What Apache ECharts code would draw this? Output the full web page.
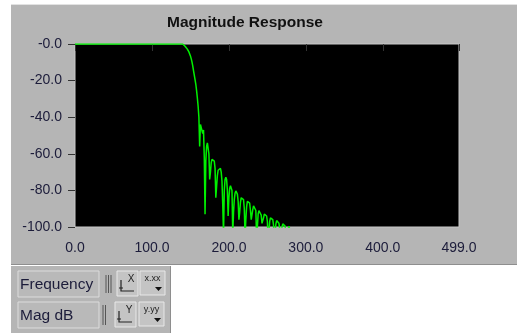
<!DOCTYPE html>
<html>
<head>
<meta charset="utf-8">
<script src="https://cdn.jsdelivr.net/npm/echarts@6/dist/echarts.min.js"></script>
<style>
html, body { margin: 0; padding: 0; background: #fff; }
#magResponse { width: 517px; height: 333px; }
</style>
</head>
<body>
<div id="magResponse"></div>
<script>
// frequency bin index and magnitude (dB)
let freqIndex = [0, 140, 141, 142, 143, 144, 145, 146, 147, 148, 149,
    150, 151, 152, 153, 154, 155, 156, 157, 158, 159,
    160, 161, 162, 163, 164, 165, 166, 167, 168, 169,
    170, 171, 172, 173, 174, 175, 176, 177, 178, 179,
    180, 181, 182, 183, 184, 185, 186, 187, 188, 189,
    190, 191, 192, 193, 194, 195, 196, 197, 198, 199,
    200, 201, 202, 203, 204, 205, 206, 207, 208, 209,
    210, 211, 212, 213, 214, 215, 216, 217, 218, 219,
    220, 221, 222, 223, 224, 225, 226, 227, 228, 229,
    230, 231, 232, 233, 234, 235, 236, 237, 238, 239,
    240, 241, 242, 243, 244, 245, 246, 247, 248, 249,
    250, 251, 252, 253, 254, 255, 256, 257, 258, 259,
    260, 261, 262, 263, 264, 265, 266, 267, 268, 269,
    270, 271, 272, 273, 274, 275, 276, 277, 278, 279,
    280, 281, 282, 283];
let magDb = [0, 0, -0.3, -0.8, -1.2, -1.7, -2.2, -2.8, -3.5, -4.3, -5.3,
    -6.5, -8, -9.8, -12, -14.5, -17, -19.5, -22, -25.5, -29.5,
    -34, -40, -56, -44, -43, -45, -49, -47, -62, -93,
    -64, -56, -54, -55, -60, -74, -70, -65, -63, -62.5,
    -62.4, -64, -68, -84, -78, -72, -69, -68, -68.5, -68,
    -70, -75, -88, -104, -80, -74, -72.8, -74, -80, -94,
    -84, -79, -77.5, -77.5, -80, -104, -92, -85, -81.5, -80.3,
    -80.5, -82, -86, -96, -92, -86.5, -84, -83.4, -83.5, -85,
    -90, -105, -96, -89, -86, -85.2, -85.5, -87, -91, -96,
    -95, -90.5, -88.5, -88, -88.5, -91, -106, -100, -93, -91,
    -90.7, -91, -93.5, -98, -99, -95, -93, -92.5, -92.8, -94,
    -97, -108, -103, -97, -95, -94.4, -94.6, -96, -99, -109,
    -104, -98.5, -96.5, -96.2, -96.5, -98, -101, -110, -104, -100,
    -98.3, -98, -98.2, -99.5, -103, -111, -106, -101, -99.6, -99.5,
    -100.5, -104, -112, -110];

let xTickValues = [0, 100, 200, 300, 400, 499];
let xTickLabels = ['0.0', '100.0', '200.0', '300.0', '400.0', '499.0'];
let yTickValues = [-100, -80, -60, -40, -20, 0];
let yTickLabels = ['-100.0', '-80.0', '-60.0', '-40.0', '-20.0', '-0.0'];

let xAxisName = 'Frequency';
let yAxisName = 'Mag dB';

let lineData = freqIndex.map((f, i) => [f, magDb[i]]);

let panelGray = '#b5b5b5';
let labelColor = '#1c1c3a';
let font = '"Liberation Sans", Arial, sans-serif';

function axisButton(x, y, letter) {
    return [
        { type: 'rect', shape: { x: x, y: y, width: 21, height: 25 },
          style: { fill: '#c4c4c4', stroke: '#e8e8e8', lineWidth: 1 } },
        { type: 'polyline', shape: { points: [[x + 4, y + 9], [x + 4, y + 20], [x + 17, y + 20]] },
          style: { stroke: '#222', lineWidth: 1.2, fill: null } },
        { type: 'polyline', shape: { points: [[x + 2, y + 17], [x + 6, y + 17]] },
          style: { stroke: '#222', lineWidth: 1, fill: null } },
        { type: 'text', x: x + 14, y: y + 8,
          style: { text: letter, font: '10px ' + font, fill: '#222', textAlign: 'center', textVerticalAlign: 'middle' } }
    ];
}

function formatButton(x, y, txt) {
    return [
        { type: 'rect', shape: { x: x, y: y, width: 25, height: 24 },
          style: { fill: '#c4c4c4', stroke: '#e8e8e8', lineWidth: 1 } },
        { type: 'text', x: x + 12.5, y: y + 8,
          style: { text: txt, font: '9px ' + font, fill: '#222', textAlign: 'center', textVerticalAlign: 'middle' } },
        { type: 'polygon', shape: { points: [[x + 15, y + 16], [x + 22, y + 16], [x + 18.5, y + 20]] },
          style: { fill: '#111' } }
    ];
}

let graphics = [
    // main front panel
    { type: 'rect', z: -10, shape: { x: 11, y: 4, width: 506, height: 260 }, style: { fill: panelGray } },
    { type: 'line', z: -9, shape: { x1: 11, y1: 4.5, x2: 517, y2: 4.5 }, style: { stroke: '#e2e2e2' } },
    { type: 'line', z: -9, shape: { x1: 11, y1: 264.5, x2: 517, y2: 264.5 }, style: { stroke: '#8e8e8e' } },
    // scale legend panel
    { type: 'rect', z: -10, shape: { x: 11, y: 266, width: 160, height: 67 }, style: { fill: panelGray } },
    { type: 'line', z: -9, shape: { x1: 170.5, y1: 266, x2: 170.5, y2: 333 }, style: { stroke: '#8e8e8e' } },
    { type: 'rect', shape: { x: 18, y: 271, width: 81, height: 26 }, style: { fill: '#b9b9b9', stroke: '#dcdcdc' } },
    { type: 'text', x: 20, y: 285,
      style: { text: xAxisName, font: '15.5px ' + font, fill: labelColor, textVerticalAlign: 'middle' } },
    { type: 'rect', shape: { x: 18, y: 302, width: 81, height: 26 }, style: { fill: '#b9b9b9', stroke: '#dcdcdc' } },
    { type: 'text', x: 20, y: 316,
      style: { text: yAxisName, font: '15.5px ' + font, fill: labelColor, textVerticalAlign: 'middle' } }
];

[106, 108.5, 111].forEach(x => {
    graphics.push({ type: 'line', shape: { x1: x, y1: 275, x2: x, y2: 293 }, style: { stroke: '#555', lineWidth: 1 } });
});
[103, 105.5].forEach(x => {
    graphics.push({ type: 'line', shape: { x1: x, y1: 305, x2: x, y2: 325 }, style: { stroke: '#555', lineWidth: 1 } });
});
graphics = graphics.concat(axisButton(117, 271, 'X'), formatButton(140, 271, 'x.xx'),
    axisButton(115, 302, 'Y'), formatButton(139, 302, 'y.yy'));

let optionMagResponse = {
    animation: false,
    title: {
        text: 'Magnitude Response',
        left: 245,
        top: 15,
        padding: 0,
        textAlign: 'center',
        textStyle: { fontFamily: font, fontSize: 15.5, fontWeight: 'bold', color: '#111' }
    },
    grid: {
        left: 75,
        top: 44,
        width: 384,
        height: 183,
        show: true,
        backgroundColor: '#000',
        borderColor: '#c8c8c8',
        borderWidth: 1
    },
    xAxis: {
        type: 'value',
        min: 0,
        max: 499,
        interval: 100,
        offset: 2,
        splitLine: { show: false },
        axisLine: { show: false },
        axisTick: { show: true, length: 7, lineStyle: { color: '#333' } },
        axisLabel: {
            margin: 12,
            color: labelColor,
            fontFamily: font,
            fontSize: 14,
            formatter: v => xTickLabels[xTickValues.indexOf(v)]
        }
    },
    yAxis: {
        type: 'value',
        min: -100,
        max: 0,
        interval: 20,
        offset: 2,
        splitLine: { show: false },
        axisLine: { show: false },
        axisTick: { show: true, length: 7, lineStyle: { color: '#333' } },
        axisLabel: {
            margin: 11,
            color: labelColor,
            fontFamily: font,
            fontSize: 14,
            formatter: v => yTickLabels[yTickValues.indexOf(v)]
        }
    },
    graphic: graphics,
    series: [
        {
            name: yAxisName,
            type: 'line',
            data: lineData,
            symbol: 'none',
            clip: true,
            lineStyle: { color: '#00f000', width: 1.5 }
        }
    ]
};

let chartMagResponse = echarts.init(document.getElementById('magResponse'));
chartMagResponse.setOption(optionMagResponse);
</script>
</body>
</html>
